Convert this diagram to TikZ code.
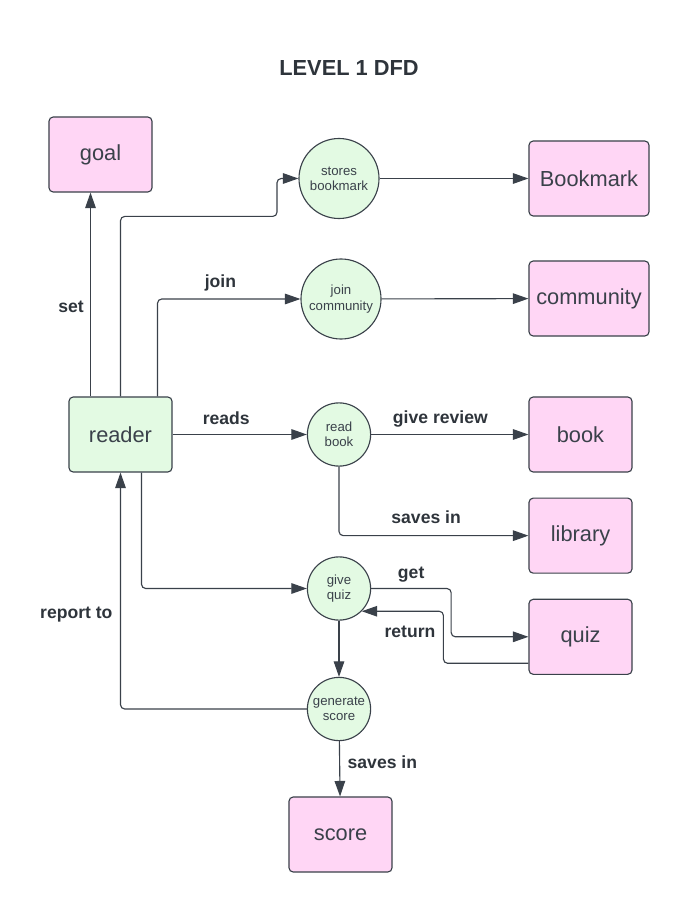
\documentclass[tikz,border=0pt]{standalone}
\usepackage{fontspec}
\setmainfont{Liberation Sans}
\usetikzlibrary{arrows.meta,positioning,calc}
\definecolor{storepink}{RGB}{255,214,245}
\definecolor{procgreen}{RGB}{227,250,227}
\definecolor{linegray}{RGB}{58,65,74}

\begin{document}
\begin{tikzpicture}[
            x=0.025cm, y=-0.025cm,
            store/.style={draw=linegray, fill=storepink, rounded corners=3pt, minimum width=2.575cm, minimum height=1.875cm, text=linegray, font=\fontsize{15.5}{18}\selectfont, line width=0.8pt},
            widestore/.style={store, minimum width=3cm},
            entity/.style={store, fill=procgreen},
            process/.style={draw=linegray, fill=procgreen, circle, inner sep=0pt, minimum size=1.58cm, align=center, text=linegray, font=\fontsize{9.4}{10.8}\selectfont, line width=0.8pt},
            bigprocess/.style={process, minimum size=2cm},
            arrow/.style={-{Triangle[length=11pt,width=7.5pt]}, draw=linegray, line width=0.8pt, rounded corners=3pt},
            lbl/.style={text=linegray!80!black, font=\bfseries\fontsize{12.5}{15}\selectfont}
        ]
        \useasboundingbox (0,0) rectangle (689,912);

        \node[lbl, font=\bfseries\fontsize{15.5}{18}\selectfont] (title) at (349,68) {LEVEL 1 DFD};

        % Entity and stores
        \node[store] (goal) at (100.5,154.5) {goal};
        \node[entity] (reader) at (120.5,434.5) {reader};
        \node[widestore] (bookmark) at (589,178.5) {Bookmark};
        \node[widestore] (community) at (589,298.5) {community};
        \node[store] (book) at (580.5,434.5) {book};
        \node[store, below=0.625cm of book] (library) {library};
        \node[store, below=0.625cm of library] (quiz) {quiz};
        \node[store] (score) at (340.5,834.5) {score};

        % Processes
        \node[bigprocess] (storesbm) at (339,178.5) {stores\\bookmark};
        \node[bigprocess] (joincom) at (341,299) {join\\community};
        \node[process] (readbook) at (339,434.5) {read\\book};
        \node[process] (givequiz) at (339,588.5) {give\\quiz};
        \node[process] (genscore) at (339,709) {generate\\score};

        % Reader flows
        \draw[arrow] ($(reader.north)+(-30,0)$) coordinate (setfoot) -- node[lbl, left=1pt, pos=0.44] {set} (setfoot |- goal.south);
        \draw[arrow] (reader.north) -- ++(0,-180) -- ++(156.5,0) |- (storesbm.west);
        \draw[arrow] ($(reader.north)+(37,0)$) |- node[lbl, above=1.5pt, pos=0.72] {join} (joincom.west);
        \draw[arrow] (reader) -- node[lbl, above=3pt, pos=0.4] {reads} (readbook);
        \draw[arrow] ($(reader.south)+(21,0)$) |- (givequiz.west);

        % Process outputs
        \draw[arrow] (storesbm) -- (bookmark);
        \draw[arrow] (joincom) -- (community);
        \draw[arrow] (readbook) -- node[lbl, above=1.5pt, pos=0.44] {give review} (book);
        \draw[arrow] (readbook.south) |- node[lbl, above=4.5pt, pos=0.73] {saves in} (library.west);

        % Quiz loop
        \draw[arrow] (givequiz.east) -- node[lbl, above=0.5pt] {get} ++(80,0) |- (quiz.west);
        \draw[arrow] ($(quiz.west)+(0,26.5)$) -- ++(-85,0) |- node[lbl, left=2pt, pos=0.3] {return} (givequiz.south east);
        \draw[arrow] (givequiz) -- (genscore);
        \draw[arrow] (genscore.west) -| node[lbl, left=2pt, pos=0.7] {report to} (reader.south);
        \draw[arrow] (genscore) -- node[lbl, right=2pt, pos=0.38] {saves in} (score);
    \end{tikzpicture}
\end{document}
